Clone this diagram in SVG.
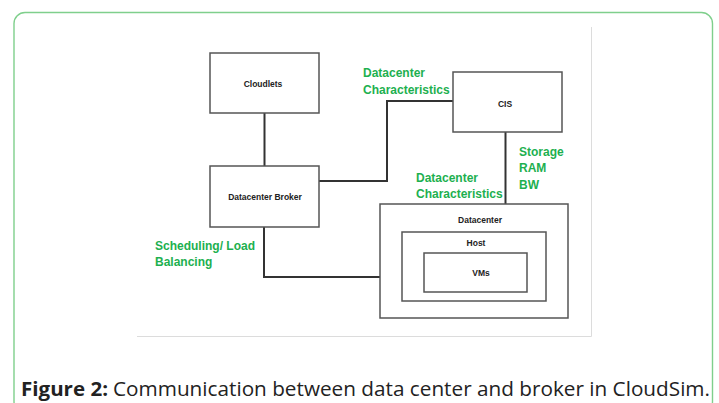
<svg xmlns="http://www.w3.org/2000/svg" width="719" height="403" viewBox="0 0 719 403">
<style>
.box{fill:#fff;stroke:#555;stroke-width:1.5}
.lbl{font-family:"Liberation Sans",Arial,sans-serif;font-weight:bold;font-size:8.5px;fill:#222;text-anchor:middle}
.grn{font-family:"Liberation Sans",Arial,sans-serif;font-weight:bold;font-size:12px;fill:#1db04f}
.con{fill:none;stroke:#333;stroke-width:2}
.cap{font-family:"Open Sans","Liberation Sans",sans-serif;font-size:20px;fill:#222}
</style>
<rect width="719" height="403" fill="#fff"/>
<rect x="14" y="12.5" width="698.5" height="400" rx="11" fill="none" stroke="#7fcf8c" stroke-width="1.4"/>
<path d="M137 336.5H591.5V27" fill="none" stroke="#dcdcdc" stroke-width="1"/>
<g id="connectors">
<path class="con" d="M264.5 113V166"/>
<path class="con" d="M319 181H387V101H453"/>
<path class="con" d="M505.5 132V204"/>
<path class="con" d="M264 227V277H380"/>
</g>
<g id="cloudlets"><rect class="box" x="210" y="53" width="109" height="60"/><text class="lbl" x="263" y="87">Cloudlets</text></g>
<g id="cis"><rect class="box" x="453" y="72" width="109" height="60"/><text class="lbl" x="505" y="107">CIS</text></g>
<g id="broker"><rect class="box" x="210" y="166" width="109" height="61"/><text class="lbl" x="265" y="200">Datacenter Broker</text></g>
<g id="datacenter"><rect class="box" x="380" y="204" width="188" height="114"/><text class="lbl" x="480" y="223">Datacenter</text></g>
<g id="host"><rect class="box" x="402" y="232" width="144" height="69"/><text class="lbl" x="476" y="246">Host</text></g>
<g id="vms"><rect class="box" x="424" y="253" width="103" height="39"/><text class="lbl" x="481" y="276">VMs</text></g>
<g id="labels">
<text class="grn" x="363" y="77">Datacenter</text>
<text class="grn" x="363" y="93.5">Characteristics</text>
<text class="grn" x="519" y="155.5">Storage</text>
<text class="grn" x="519" y="172">RAM</text>
<text class="grn" x="519" y="188.5">BW</text>
<text class="grn" x="416" y="181.5">Datacenter</text>
<text class="grn" x="416" y="197.5">Characteristics</text>
<text class="grn" x="155" y="249.5">Scheduling/ Load</text>
<text class="grn" x="155" y="266">Balancing</text>
</g>
<text class="cap" x="21" y="396" font-weight="bold" textLength="87" lengthAdjust="spacingAndGlyphs">Figure 2:</text>
<text class="cap" x="113" y="396" textLength="597" lengthAdjust="spacingAndGlyphs">Communication between data center and broker in CloudSim.</text>
</svg>
